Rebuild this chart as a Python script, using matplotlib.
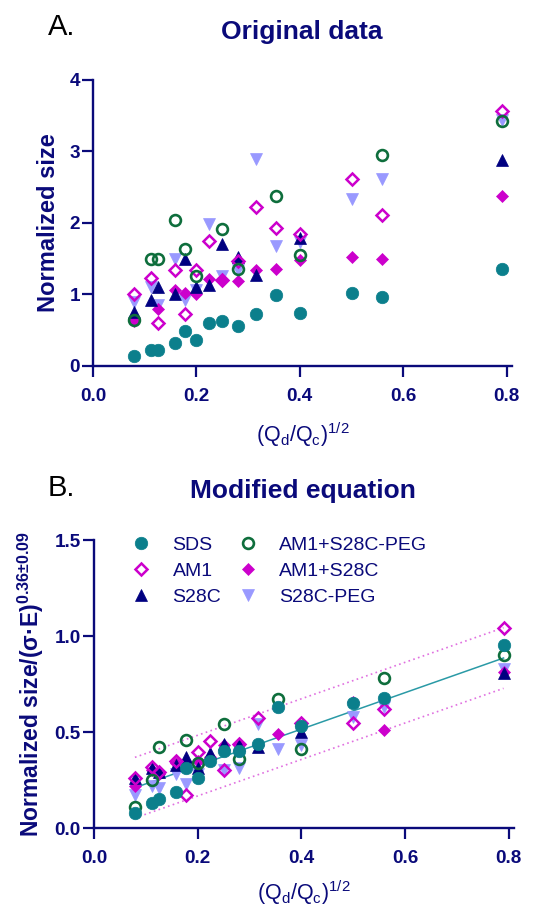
import numpy as np
import matplotlib
matplotlib.use('Agg')
import matplotlib.pyplot as plt

# ---- data ----
# sqrt(Qd/Qc) grid shared by all series
Q_RATIO = [0.079, 0.112, 0.125, 0.158, 0.177, 0.200, 0.224, 0.250,
           0.280, 0.316, 0.354, 0.400, 0.500, 0.559, 0.790]
nan = np.nan

# panel A: normalized size
SDS_A = [0.135, 0.22, 0.23, 0.32, 0.485, 0.36, 0.60, 0.625, 0.56, 0.73, 0.99, 0.74, 1.02, 0.966, 1.36]
AM1_A = [1.00, 1.23, 0.60, 1.34, 0.72, 1.34, 1.75, 1.20, 1.47, 2.23, 1.93, 1.84, 2.62, 2.11, 3.56]
S28C_A = [0.75, 0.92, 1.10, 1.01, 1.50, 1.10, 1.13, 1.70, 1.53, 1.27, nan, 1.79, nan, nan, 2.88]
AM1_S28C_PEG_A = [0.64, 1.49, 1.50, 2.04, 1.63, 1.26, nan, 1.91, 1.36, nan, 2.38, 1.55, nan, 2.95, 3.42]
AM1_S28C_A = [0.63, nan, 0.80, 1.06, 1.02, 1.00, 1.21, 1.20, 1.19, 1.34, 1.36, 1.48, 1.53, 1.49, 2.38]
S28C_PEG_A = [0.90, 1.10, 0.85, 1.50, 0.92, 1.06, 1.98, 1.26, 1.34, 2.90, 1.68, 1.74, 2.34, 2.61, 3.44]

# panel B: normalized size / (sigma*E)^0.36
SDS_B = [0.08, 0.13, 0.15, 0.19, 0.31, 0.26, 0.35, 0.40, 0.40, 0.44, 0.63, 0.53, 0.65, 0.676, 0.955]
AM1_B = [0.26, 0.32, 0.29, 0.35, 0.17, 0.395, 0.455, 0.30, 0.44, 0.575, nan, 0.545, 0.546, 0.62, 1.04]
S28C_B = [0.26, 0.31, 0.29, 0.33, 0.37, 0.31, 0.39, 0.44, 0.43, 0.42, nan, 0.50, nan, nan, 0.81]
AM1_S28C_PEG_B = [0.11, 0.25, 0.42, nan, 0.46, 0.34, nan, 0.54, 0.36, nan, 0.67, 0.41, nan, 0.78, 0.90]
AM1_S28C_B = [0.22, 0.30, 0.28, 0.34, 0.33, 0.35, 0.37, 0.43, 0.43, 0.43, 0.49, 0.53, 0.655, 0.51, 0.815]
S28C_PEG_B = [0.17, 0.22, 0.21, 0.28, 0.23, 0.28, nan, 0.30, 0.31, 0.54, 0.41, 0.43, 0.58, 0.63, 0.83]

# linear fit and band in panel B
FIT_SLOPE = 0.95
FIT_INTERCEPT = 0.135
FIT_BAND = 0.158
FIT_RANGE = [0.079, 0.790]

NAVY = '#0A0A7A'
plt.rcParams['font.family'] = ['Liberation Sans', 'DejaVu Sans']
plt.rcParams['mathtext.fontset'] = 'custom'
plt.rcParams['mathtext.rm'] = 'Liberation Sans'
plt.rcParams['mathtext.bf'] = 'Liberation Sans:bold'
plt.rcParams['mathtext.it'] = 'Liberation Sans:italic'

# drawing order bottom -> top
series = [
    # label, A, B, marker, size, face, edge, mew
    ('S28C-PEG', S28C_PEG_A, S28C_PEG_B, 'v', 8.8, '#9999FF', '#9999FF', 0.5),
    ('AM1+S28C', AM1_S28C_A, AM1_S28C_B, 'D', 6.2, '#CC00CC', '#CC00CC', 0.5),
    ('S28C', S28C_A, S28C_B, '^', 8.8, '#000080', '#000080', 0.5),
    ('AM1', AM1_A, AM1_B, 'D', 6.4, 'none', '#CC00CC', 1.8),
    ('AM1+S28C-PEG', AM1_S28C_PEG_A, AM1_S28C_PEG_B, 'o', 7.8, 'none', '#0E6E3C', 1.9),
    ('SDS', SDS_A, SDS_B, 'o', 9.0, '#0B7F8C', '#0B7F8C', 0.5),
]
legend_order = ['SDS', 'AM1', 'S28C', 'AM1+S28C-PEG', 'AM1+S28C', 'S28C-PEG']

fig = plt.figure(figsize=(5.37, 9.09), dpi=100)
axA = fig.add_axes([0.1732, 0.5974, 0.780, 0.3146])
axB = fig.add_axes([0.1750, 0.0891, 0.782, 0.3168])


def style_axis(ax, xlabelpad):
    for side in ['top', 'right']:
        ax.spines[side].set_visible(False)
    for side in ['left', 'bottom']:
        ax.spines[side].set_color(NAVY)
        ax.spines[side].set_linewidth(1.7)
    ax.tick_params(direction='out', length=8, width=1.6, color=NAVY,
                   labelcolor=NAVY, labelsize=13.6)
    ax.tick_params(axis='x', pad=8)
    ax.tick_params(axis='y', pad=1.5)
    ax.set_xlim(0, 0.81)
    ax.set_xticks([0.0, 0.2, 0.4, 0.6, 0.8])
    ax.set_xticklabels(['0.0', '0.2', '0.4', '0.6', '0.8'], fontweight='bold')
    ax.set_xlabel(r'(Q$_\mathregular{d}$/Q$_\mathregular{c}$)$^\mathregular{1/2}$',
                  color=NAVY, fontsize=15.5, labelpad=xlabelpad)


handles = {}
for label, ya, yb, mk, ms, fc, ec, mew in series:
    axA.plot(Q_RATIO, ya, linestyle='none', marker=mk, ms=ms, mfc=fc, mec=ec,
             mew=mew, clip_on=False)
    h, = axB.plot(Q_RATIO, yb, linestyle='none', marker=mk, ms=ms, mfc=fc,
                  mec=ec, mew=mew, clip_on=False, label=label)
    handles[label] = h

# panel A
style_axis(axA, 11)
axA.set_ylim(0, 4)
axA.set_yticks([0, 1, 2, 3, 4])
axA.set_yticklabels(['0', '1', '2', '3', '4'], fontweight='bold')
axA.set_ylabel('Normalized size', color=NAVY, fontsize=17, fontweight='bold',
               labelpad=7)

# panel B
fx = np.array(FIT_RANGE)
fy = FIT_INTERCEPT + FIT_SLOPE * fx
axB.plot(fx, fy, color='#2A9AA6', lw=1.1, zorder=1)
axB.plot(fx, fy + FIT_BAND, color='#E070E0', lw=1.2, ls=(0, (1, 2)), zorder=1)
axB.plot(fx, fy - FIT_BAND, color='#E070E0', lw=1.2, ls=(0, (1, 2)), zorder=1)
style_axis(axB, 8)
axB.set_ylim(0, 1.5)
axB.set_yticks([0.0, 0.5, 1.0, 1.5])
axB.set_yticklabels(['0.0', '0.5', '1.0', '1.5'], fontweight='bold')
axB.set_ylabel('Normalized size/(σ·E)$^{\\mathbf{0.36±0.09}}$', color=NAVY,
               fontsize=16.5, fontweight='bold', labelpad=6)

leg = axB.legend([handles[k] for k in legend_order], legend_order, ncol=2,
                 loc='upper left', bbox_to_anchor=(0.090, 1.012),
                 frameon=False, fontsize=14, handlelength=1.0,
                 handletextpad=1.1, columnspacing=0.85, labelspacing=0.42,
                 borderpad=0, borderaxespad=0)
for t in leg.get_texts():
    t.set_color(NAVY)

# panel letters and titles
fig.text(0.089, 0.970, 'A.', fontsize=21, color='black', va='center')
fig.text(0.562, 0.965, 'Original data', fontsize=19, fontweight='bold',
         color=NAVY, ha='center', va='center')
fig.text(0.089, 0.463, 'B.', fontsize=21, color='black', va='center')
fig.text(0.564, 0.460, 'Modified equation', fontsize=19, fontweight='bold',
         color=NAVY, ha='center', va='center')

fig.savefig('out.png', dpi=100)
